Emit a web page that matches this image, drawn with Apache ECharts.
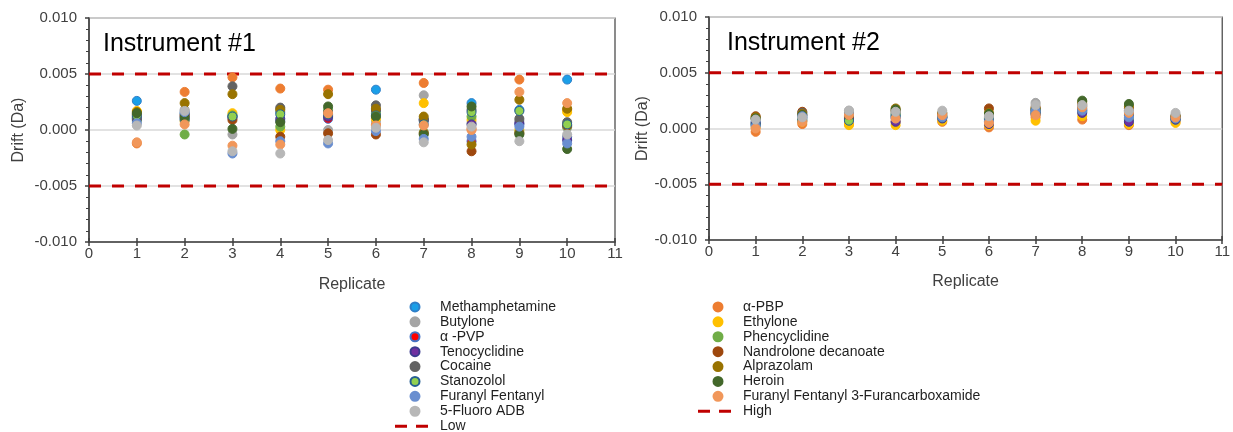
<!DOCTYPE html>
<html>
<head>
<meta charset="utf-8">
<script src="https://cdn.jsdelivr.net/npm/echarts@6/dist/echarts.min.js"></script>
<style>html,body{margin:0;padding:0;background:#fff;}#c{width:1233px;height:432px;}</style>
</head>
<body>
<div id="c"></div>
<script>
// ---- data ----
const replicates = [1, 2, 3, 4, 5, 6, 7, 8, 9, 10];
const xTicks = [0, 1, 2, 3, 4, 5, 6, 7, 8, 9, 10, 11];
const yTicks = [-0.010, -0.005, 0.000, 0.005, 0.010];
const limitLow = -0.005;
const limitHigh = 0.005;

// Instrument #1 drift (Da) per replicate
const i1_methamphetamine = [0.0026, 0.0015, 0.0013, 0.0016, 0.0013, 0.0036, 0.0010, 0.0024, 0.0018, 0.0045];
const i1_butylone        = [0.0008, 0.0018, -0.0004, 0.0019, 0.0000, 0.0008, 0.0031, 0.0006, 0.0008, 0.0002];
const i1_aPVP            = [0.0012, 0.0010, 0.0012, 0.0008, 0.0010, 0.0015, 0.0008, -0.0010, 0.0005, -0.0006];
const i1_tenocyclidine   = [0.0010, 0.0012, 0.0011, 0.0010, 0.0012, 0.0018, 0.0009, 0.0005, 0.0006, -0.0009];
const i1_cocaine         = [0.0011, 0.0014, 0.0039, 0.0020, 0.0016, 0.0022, 0.0009, 0.0018, 0.0010, 0.0007];
const i1_stanozolol      = [0.0013, 0.0009, 0.0012, 0.0014, 0.0014, 0.0013, 0.0005, 0.0016, 0.0017, 0.0005];
const i1_furanylFentanyl = [0.0006, 0.0016, -0.0021, -0.0010, -0.0012, -0.0001, -0.0008, -0.0006, 0.0003, -0.0012];
const i1_fluoroADB       = [0.0004, 0.0017, -0.0019, -0.0021, -0.0009, 0.0002, -0.0011, 0.0003, -0.0010, -0.0004];
const i1_aPBP            = [-0.0012, 0.0034, 0.0047, 0.0037, 0.0036, 0.0005, 0.0042, 0.0001, 0.0045, 0.0018];
const i1_ethylone        = [0.0017, 0.0008, 0.0015, 0.0000, 0.0011, 0.0010, 0.0024, 0.0009, 0.0000, 0.0016];
const i1_phencyclidine   = [0.0009, -0.0004, 0.0013, 0.0003, 0.0018, 0.0016, -0.0002, 0.0012, -0.0002, 0.0003];
const i1_nandrolone      = [0.0014, 0.0013, 0.0009, -0.0006, -0.0003, -0.0004, -0.0003, -0.0019, -0.0003, 0.0004];
const i1_alprazolam      = [0.0016, 0.0024, 0.0032, 0.0018, 0.0032, 0.0019, 0.0012, -0.0013, 0.0027, 0.0019];
const i1_heroin          = [0.0015, 0.0011, 0.0001, 0.0007, 0.0021, 0.0012, -0.0004, 0.0021, -0.0004, -0.0017];
const i1_ff3f            = [-0.0011, 0.0005, -0.0014, -0.0013, 0.0015, 0.0004, 0.0004, 0.0000, 0.0034, 0.0024];

// Instrument #2 drift (Da) per replicate
const i2_methamphetamine = [0.0006, 0.0010, 0.0011, 0.0012, 0.0011, 0.0006, 0.0017, 0.0018, 0.0013, 0.0009];
const i2_butylone        = [0.0008, 0.0010, 0.0016, 0.0013, 0.0014, 0.0008, 0.0023, 0.0021, 0.0016, 0.0012];
const i2_aPVP            = [0.0004, 0.0009, 0.0010, 0.0010, 0.0010, 0.0005, 0.0014, 0.0016, 0.0008, 0.0008];
const i2_tenocyclidine   = [0.0005, 0.0012, 0.0009, 0.0006, 0.0009, 0.0004, 0.0013, 0.0014, 0.0006, 0.0008];
const i2_cocaine         = [0.0009, 0.0014, 0.0012, 0.0015, 0.0012, 0.0012, 0.0016, 0.0020, 0.0015, 0.0011];
const i2_stanozolol      = [0.0003, 0.0007, 0.0007, 0.0011, 0.0010, 0.0009, 0.0015, 0.0017, 0.0012, 0.0009];
const i2_furanylFentanyl = [0.0002, 0.0011, 0.0013, 0.0009, 0.0010, 0.0006, 0.0016, 0.0016, 0.0010, 0.0009];
const i2_fluoroADB       = [0.0008, 0.0010, 0.0016, 0.0015, 0.0016, 0.0011, 0.0021, 0.0021, 0.0016, 0.0014];
const i2_aPBP            = [-0.0003, 0.0004, 0.0004, 0.0006, 0.0006, 0.0001, 0.0010, 0.0008, 0.0003, 0.0006];
const i2_ethylone        = [0.0001, 0.0006, 0.0003, 0.0003, 0.0007, 0.0003, 0.0007, 0.0011, 0.0004, 0.0005];
const i2_phencyclidine   = [0.0004, 0.0008, 0.0008, 0.0013, 0.0011, 0.0010, 0.0013, 0.0015, 0.0009, 0.0008];
const i2_nandrolone      = [0.0011, 0.0015, 0.0011, 0.0016, 0.0013, 0.0018, 0.0019, 0.0022, 0.0018, 0.0010];
const i2_alprazolam      = [0.0010, 0.0013, 0.0014, 0.0018, 0.0014, 0.0014, 0.0018, 0.0024, 0.0020, 0.0011];
const i2_heroin          = [0.0009, 0.0012, 0.0012, 0.0017, 0.0010, 0.0013, 0.0017, 0.0025, 0.0022, 0.0010];
const i2_ff3f            = [0.0000, 0.0006, 0.0012, 0.0009, 0.0012, 0.0005, 0.0012, 0.0019, 0.0014, 0.0010];

const titles = ['Instrument #1', 'Instrument #2'];
const legendLeftNames = ['Methamphetamine', 'Butylone', 'α -PVP', 'Tenocyclidine', 'Cocaine', 'Stanozolol', 'Furanyl Fentanyl', '5-Fluoro ADB', 'Low'];
const legendRightNames = ['α-PBP', 'Ethylone', 'Phencyclidine', 'Nandrolone decanoate', 'Alprazolam', 'Heroin', 'Furanyl Fentanyl 3-Furancarboxamide', 'High'];

// compounds in drawing order (Excel row-major legend order)
const compounds = [
  ['Methamphetamine', i1_methamphetamine, i2_methamphetamine],
  ['α-PBP', i1_aPBP, i2_aPBP],
  ['Butylone', i1_butylone, i2_butylone],
  ['Ethylone', i1_ethylone, i2_ethylone],
  ['α -PVP', i1_aPVP, i2_aPVP],
  ['Phencyclidine', i1_phencyclidine, i2_phencyclidine],
  ['Tenocyclidine', i1_tenocyclidine, i2_tenocyclidine],
  ['Nandrolone decanoate', i1_nandrolone, i2_nandrolone],
  ['Cocaine', i1_cocaine, i2_cocaine],
  ['Alprazolam', i1_alprazolam, i2_alprazolam],
  ['Stanozolol', i1_stanozolol, i2_stanozolol],
  ['Heroin', i1_heroin, i2_heroin],
  ['Furanyl Fentanyl', i1_furanylFentanyl, i2_furanylFentanyl],
  ['Furanyl Fentanyl 3-Furancarboxamide', i1_ff3f, i2_ff3f],
  ['5-Fluoro ADB', i1_fluoroADB, i2_fluoroADB]
];

// ---- styles ----
const styles = {
  'Methamphetamine': { fill: '#1A9FE8', border: '#2F7FC8' },
  'α-PBP': { fill: '#ED7D31', border: '#ED7D31' },
  'Butylone': { fill: '#A5A5A5', border: '#A5A5A5' },
  'Ethylone': { fill: '#FFC000', border: '#FFC000' },
  'α -PVP': { fill: '#FF0000', border: '#4472C4' },
  'Phencyclidine': { fill: '#70AD47', border: '#70AD47' },
  'Tenocyclidine': { fill: '#7030A0', border: '#3B3B8F' },
  'Nandrolone decanoate': { fill: '#9E480E', border: '#9E480E' },
  'Cocaine': { fill: '#636363', border: '#636363' },
  'Alprazolam': { fill: '#997300', border: '#997300' },
  'Stanozolol': { fill: '#92D050', border: '#255E91' },
  'Heroin': { fill: '#43682B', border: '#43682B' },
  'Furanyl Fentanyl': { fill: '#698ED0', border: '#698ED0' },
  'Furanyl Fentanyl 3-Furancarboxamide': { fill: '#F1975A', border: '#F1975A' },
  '5-Fluoro ADB': { fill: '#B7B7B7', border: '#B7B7B7' }
};

const FONT = '"Liberation Sans", Arial, sans-serif';
const AXIS_COLOR = '#404040';
const LABEL_COLOR = '#404040';
const DASH_ICON = 'path://M0,0 M40,9 M0,3 H12 V6 H0 Z M21,3 H33 V6 H21 Z';

const grids = [
  { left: 89, top: 18, width: 526, height: 224 },
  { left: 709, top: 17, width: 516, height: 223 }
];
const yNameGaps = [62, 56];

const xAxes = [];
const yAxes = [];
grids.forEach((g, i) => {
  xAxes.push({
    type: 'value', gridIndex: i, min: xTicks[0], max: xTicks[xTicks.length - 1], interval: 1,
    name: 'Replicate', nameLocation: 'middle', nameGap: i === 0 ? 35 : 34,
    nameTextStyle: { fontFamily: FONT, fontSize: 16, color: LABEL_COLOR },
    axisLine: { show: true, onZero: false, lineStyle: { color: AXIS_COLOR, width: 1.5 } },
    axisTick: { show: true, inside: false, length: 4, lineStyle: { color: AXIS_COLOR, width: 1.5 } },
    axisLabel: { margin: 4, fontFamily: FONT, fontSize: 15, color: LABEL_COLOR },
    splitLine: { show: false }
  });
  xAxes.push({
    type: 'value', gridIndex: i, min: xTicks[0], max: xTicks[xTicks.length - 1], interval: 1,
    position: 'bottom',
    axisLine: { show: false, onZero: false },
    axisTick: { show: true, inside: true, length: 4, lineStyle: { color: AXIS_COLOR, width: 1.5 } },
    axisLabel: { show: false },
    splitLine: { show: false }
  });
  yAxes.push({
    type: 'value', gridIndex: i, min: yTicks[0], max: yTicks[yTicks.length - 1], interval: 0.005,
    name: 'Drift (Da)', nameLocation: 'middle', nameGap: yNameGaps[i],
    nameTextStyle: { fontFamily: FONT, fontSize: 16, color: LABEL_COLOR },
    axisLine: { show: true, lineStyle: { color: AXIS_COLOR, width: 1.5 } },
    axisTick: { show: true, length: 4, lineStyle: { color: AXIS_COLOR, width: 1.5 } },
    minorTick: { show: true, splitNumber: 5, length: 3, lineStyle: { color: AXIS_COLOR, width: 1 } },
    axisLabel: { margin: 12, fontFamily: FONT, fontSize: 15, color: LABEL_COLOR,
      formatter: v => v.toFixed(3) },
    splitLine: { show: true, lineStyle: { color: '#D9D9D9', width: 1.5 } }
  });
});

const series = [];
[0, 1].forEach(inst => {
  compounds.forEach(c => {
    const name = c[0];
    const vals = c[1 + inst];
    const st = styles[name];
    series.push({
      type: 'scatter', name: name, xAxisIndex: inst * 2, yAxisIndex: inst,
      symbol: 'circle', symbolSize: 9,
      itemStyle: { color: st.fill, borderColor: st.border, borderWidth: 1, opacity: 1 },
      data: replicates.map((r, k) => [r, vals[k]])
    });
  });
  [['Low', limitLow], ['High', limitHigh]].forEach(l => {
    series.push({
      type: 'line', name: l[0], xAxisIndex: inst * 2, yAxisIndex: inst,
      symbol: 'none', showSymbol: false, silent: true, z: 1,
      lineStyle: { color: '#C00000', width: 3, type: [12, 11] },
      itemStyle: { color: '#C00000' },
      data: [[xTicks[0], l[1]], [xTicks[xTicks.length - 1], l[1]]]
    });
  });
});

function legendData(names) {
  return names.map(n => (n === 'Low' || n === 'High')
    ? { name: n, icon: DASH_ICON, itemStyle: { color: '#C00000', borderWidth: 0 } }
    : { name: n });
}

const legendCommon = {
  orient: 'vertical', top: 299.5, height: 150, padding: 0, itemWidth: 40, itemHeight: 9, itemGap: 0,
  selectedMode: false,
  textStyle: { fontFamily: FONT, fontSize: 14, color: '#1F1F1F', lineHeight: 14.9 }
};

const option = {
  animation: false,
  backgroundColor: '#fff',
  grid: grids.map(g => Object.assign({ show: true, borderColor: '#404040', borderWidth: 1.2, backgroundColor: 'transparent' }, g)),
  title: [
    { text: titles[0], left: 103, top: 32, padding: 0, textStyle: { fontFamily: FONT, fontSize: 25, fontWeight: 'normal', color: '#000' } },
    { text: titles[1], left: 727, top: 31, padding: 0, textStyle: { fontFamily: FONT, fontSize: 25, fontWeight: 'normal', color: '#000' } }
  ],
  legend: [
    Object.assign({ left: 395, data: legendData(legendLeftNames) }, legendCommon),
    Object.assign({ left: 698, data: legendData(legendRightNames) }, legendCommon)
  ],
  xAxis: xAxes,
  yAxis: yAxes,
  series: series
};

const chart = echarts.init(document.getElementById('c'), null, { renderer: 'canvas' });
chart.setOption(option);
</script>
</body>
</html>
